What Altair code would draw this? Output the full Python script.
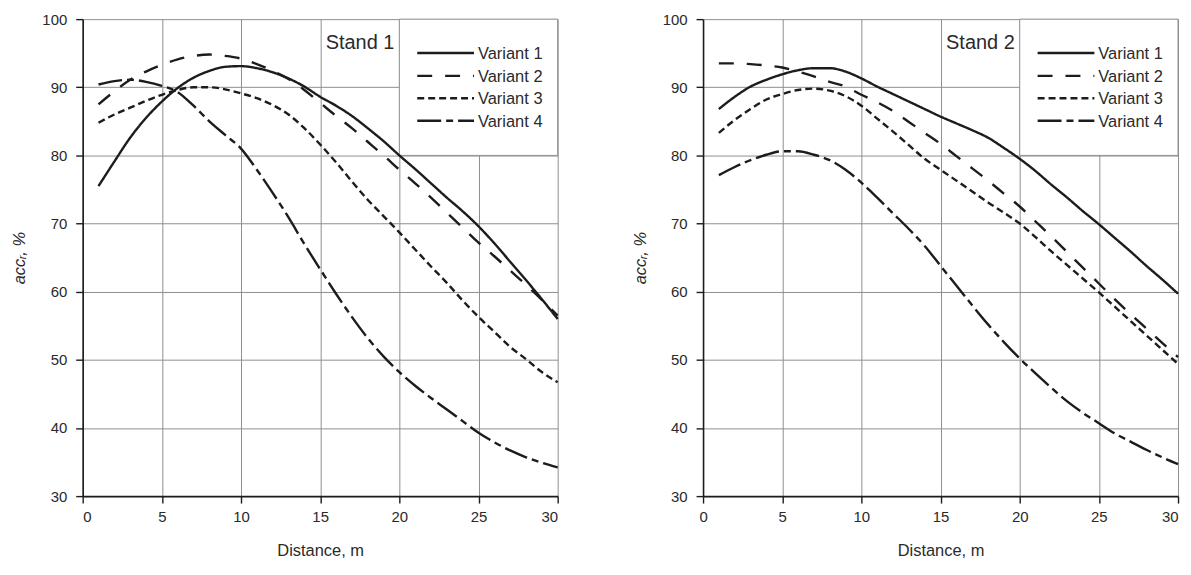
import altair as alt
import pandas as pd

# ---------------- data ----------------
distance = list(range(1, 31))
variants = ["Variant 1", "Variant 2", "Variant 3", "Variant 4"]
x_ticks = [0, 5, 10, 15, 20, 25, 30]
y_ticks = [30, 40, 50, 60, 70, 80, 90, 100]
stand_names = ["Stand 1", "Stand 2"]

stand1_v1 = [75.5, 79.1, 82.6, 85.5, 87.9, 89.9, 91.4, 92.4, 93.0, 93.1,
             92.8, 92.2, 91.3, 90.1, 88.6, 87.3, 85.8, 84.0, 82.1, 80.0,
             78.0, 75.9, 73.8, 71.8, 69.6, 67.1, 64.4, 61.7, 58.9, 56.0]
stand1_v2 = [87.5, 89.4, 91.1, 92.3, 93.3, 94.1, 94.6, 94.8, 94.6, 94.2,
             93.4, 92.4, 91.2, 89.6, 87.7, 85.8, 84.0, 82.0, 80.0, 77.9,
             75.9, 73.8, 71.6, 69.4, 67.2, 65.2, 63.1, 61.0, 58.8, 56.5]
stand1_v3 = [84.8, 86.0, 87.0, 88.0, 88.9, 89.6, 90.0, 90.0, 89.7, 89.1,
             88.4, 87.4, 86.0, 84.0, 81.6, 79.0, 76.2, 73.5, 71.1, 68.7,
             66.2, 63.7, 61.3, 58.7, 56.3, 54.1, 51.9, 50.1, 48.2, 46.7]
stand1_v4 = [90.4, 90.9, 91.1, 90.8, 90.2, 89.3, 87.3, 85.0, 83.0, 81.0,
             77.9, 74.5, 70.9, 67.0, 63.3, 59.7, 56.3, 53.2, 50.5, 48.2,
             46.2, 44.4, 42.7, 41.0, 39.3, 37.9, 36.7, 35.7, 34.9, 34.2]

stand2_v1 = [86.8, 88.6, 90.1, 91.1, 91.9, 92.5, 92.8, 92.8, 92.3, 91.3,
             90.1, 89.0, 87.9, 86.8, 85.7, 84.7, 83.7, 82.6, 81.1, 79.5,
             77.7, 75.7, 73.8, 71.8, 69.9, 67.9, 65.9, 63.8, 61.8, 59.7]
stand2_v2 = [93.5, 93.5, 93.4, 93.2, 92.9, 92.3, 91.6, 90.8, 90.1, 88.9,
             87.8, 86.5, 84.9, 83.3, 81.7, 79.9, 78.1, 76.3, 74.4, 72.5,
             70.3, 68.1, 65.8, 63.5, 61.2, 58.9, 56.7, 54.6, 52.5, 50.4]
stand2_v3 = [83.3, 85.2, 86.8, 88.2, 89.0, 89.6, 89.8, 89.5, 88.7, 87.3,
             85.4, 83.5, 81.5, 79.5, 77.9, 76.3, 74.7, 73.1, 71.6, 70.0,
             68.0, 65.9, 63.9, 61.9, 59.9, 57.8, 55.7, 53.6, 51.5, 49.4]
stand2_v4 = [77.1, 78.3, 79.3, 80.1, 80.6, 80.6, 80.1, 79.3, 77.9, 76.0,
             73.8, 71.5, 69.2, 66.7, 63.8, 60.9, 58.0, 55.2, 52.6, 50.2,
             48.0, 45.9, 43.9, 42.2, 40.7, 39.2, 38.0, 36.8, 35.7, 34.7]

# ---------------- styles ----------------
FONT = "Liberation Sans, Arial, sans-serif"
INK = "#1c1c1c"
TEXT = "#2a2a2a"
GRID = "#8e8e8e"
dash_patterns = [[1, 0], [15, 13], [7, 4], [24, 5, 7, 5]]
LINE_W = 2.4
PLOT_W = 477
PLOT_H = 479
X_TITLE = "Distance, m"
Y_TITLE = "accᵣ, %"


def panel(stand_name, series, last_label_right=False):
    rows = []
    for name, vals in zip(variants, series):
        for d, a in zip(distance, vals):
            rows.append({"distance": d, "acc": a, "variant": name})
    df = pd.DataFrame(rows)

    x_scale = alt.Scale(domain=[0, 30], nice=False, zero=False)
    y_scale = alt.Scale(domain=[30, 100], nice=False, zero=False)
    x_axis_kw = dict(values=x_ticks, title=X_TITLE, grid=True)
    if last_label_right:
        x_axis_kw["labelAlign"] = alt.ExprRef(
            expr="datum.value == 30 ? 'right' : 'center'"
        )
    x_axis = alt.Axis(**x_axis_kw)
    y_axis = alt.Axis(values=y_ticks, title=Y_TITLE, grid=True)

    dummy = pd.DataFrame({"k": [0]})

    # white legend box covering the upper-right grid cells
    box = alt.Chart(dummy).mark_rect(fill="white", stroke=GRID, strokeWidth=1).encode(
        x=alt.XDatum(20, scale=x_scale, axis=x_axis, title=X_TITLE),
        x2=alt.X2Datum(30),
        y=alt.YDatum(80, scale=y_scale, axis=y_axis, title=Y_TITLE),
        y2=alt.Y2Datum(100),
    )

    curves = alt.Chart(df).mark_line(
        interpolate="monotone", strokeWidth=LINE_W, color=INK
    ).encode(
        x=alt.X("distance:Q", scale=x_scale, axis=x_axis, title=X_TITLE),
        y=alt.Y("acc:Q", scale=y_scale, axis=y_axis, title=Y_TITLE),
        strokeDash=alt.StrokeDash(
            "variant:N",
            scale=alt.Scale(domain=variants, range=dash_patterns),
            legend=None,
        ),
        detail="variant:N",
    )

    stand_text = alt.Chart(dummy).mark_text(
        text=stand_name, font=FONT, fontSize=20, color=TEXT,
        align="right", baseline="middle",
    ).encode(x=alt.value(313), y=alt.value(24))

    layers = [box, curves, stand_text]
    row_y = [34, 57, 79.5, 102]
    for name, dash, ry in zip(variants, dash_patterns, row_y):
        layers.append(
            alt.Chart(dummy).mark_rule(strokeWidth=LINE_W, color=INK, strokeDash=dash).encode(
                x=alt.value(336), x2=alt.value(393), y=alt.value(ry)
            )
        )
        layers.append(
            alt.Chart(dummy).mark_text(
                text=name, font=FONT, fontSize=16.5, color=TEXT,
                align="left", baseline="middle",
            ).encode(x=alt.value(397), y=alt.value(ry + 1))
        )

    return alt.layer(*layers).properties(width=PLOT_W, height=PLOT_H)


left = panel(stand_names[0], [stand1_v1, stand1_v2, stand1_v3, stand1_v4])
right = panel(stand_names[1], [stand2_v1, stand2_v2, stand2_v3, stand2_v4],
              last_label_right=True)

chart = alt.hconcat(left, right, spacing=146, bounds="flush").properties(
    padding={"left": 3, "top": 3, "right": 0, "bottom": 0}
).configure_axis(
    labelFont=FONT, labelFontSize=15, labelColor=TEXT,
    titleFont=FONT, titleFontSize=16.5, titleFontWeight="normal", titleColor=TEXT,
    gridColor=GRID, gridWidth=1, gridOpacity=1,
    domainColor=INK, domainWidth=1.6,
    tickColor=INK, tickWidth=1.4, tickSize=7,
).configure_axisX(
    labelPadding=7, titlePadding=18,
).configure_axisY(
    labelPadding=9, titlePadding=14, titleFontStyle="italic",
).configure_view(strokeWidth=0)

chart.save("out.html", embed_options={"renderer": "svg", "actions": False})
